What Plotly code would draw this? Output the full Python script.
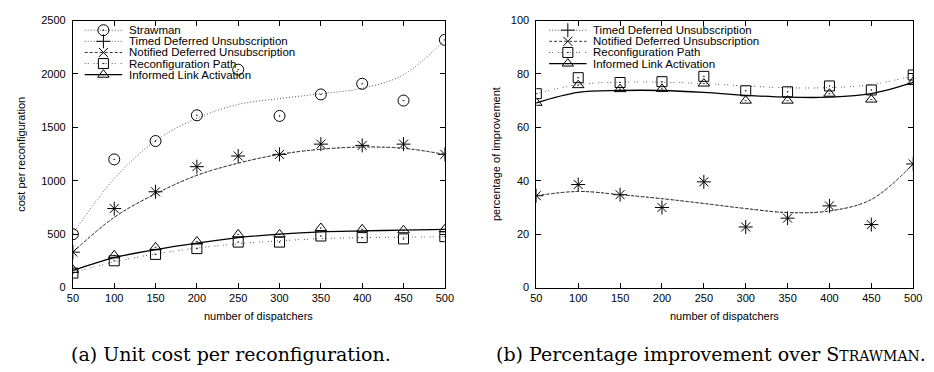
import plotly.graph_objects as go

# ---------------- data ----------------
dispatchers = [50, 100, 150, 200, 250, 300, 350, 400, 450, 500]

# (a) cost per reconfiguration - measured points
cost_strawman = [500, 1200, 1372, 1613, 2040, 1607, 1808, 1908, 1751, 2319]
cost_timed    = [332, 740, 897, 1132, 1232, 1247, 1343, 1331, 1343, 1247]
cost_notified = [332, 740, 897, 1132, 1232, 1247, 1343, 1331, 1343, 1247]
cost_reconf   = [136, 251, 311, 365, 426, 426, 483, 468, 456, 477]
cost_ila      = [166, 302, 377, 432, 498, 498, 558, 546, 537, 546]

# (a) fitted curves read at each x
fit_cost_strawman = [505, 1020, 1374, 1585, 1715, 1769, 1815, 1866, 1993, 2319]
fit_cost_notified = [332, 658, 878, 1051, 1165, 1247, 1295, 1316, 1304, 1247]
fit_cost_reconf   = [140, 241, 315, 370, 410, 438, 458, 468, 472, 477]
fit_cost_ila      = [160, 281, 356, 417, 468, 501, 522, 531, 538, 545]

# (b) percentage of improvement - measured points
imp_timed    = [34.4, 38.6, 34.8, 30.0, 39.6, 22.7, 26.0, 30.6, 23.6, 46.3]
imp_notified = [34.4, 38.6, 34.8, 30.0, 39.6, 22.7, 26.0, 30.6, 23.6, 46.3]
imp_reconf   = [72.6, 78.6, 76.8, 77.1, 79.1, 73.7, 73.3, 75.5, 74.0, 79.6]
imp_ila      = [69.2, 75.8, 74.3, 74.4, 76.4, 70.0, 70.0, 72.6, 70.4, 77.0]

# (b) fitted curves
fit_imp_notified = [34.4, 36.0, 34.8, 33.3, 31.5, 29.6, 28.1, 28.7, 33.0, 46.3]
fit_imp_reconf   = [72.6, 76.0, 76.9, 76.9, 76.4, 75.5, 74.8, 74.9, 76.0, 79.3]
fit_imp_ila      = [69.2, 73.1, 73.8, 73.8, 73.1, 72.0, 71.3, 71.3, 72.6, 76.8]

x_ticks = [50, 100, 150, 200, 250, 300, 350, 400, 450, 500]
y_ticks_cost = [0, 500, 1000, 1500, 2000, 2500]
y_ticks_imp = [0, 20, 40, 60, 80, 100]

# ---------------- styling ----------------
W, H = 934, 372
SANS = "Liberation Sans, Arial, sans-serif"
SERIF = "DejaVu Serif, serif"

STYLE = {
    "Strawman": dict(dash="1px,2px", color="#555", width=1, symbol="circle-open-dot", msize=11),
    "Timed Deferred Unsubscription": dict(dash="1px,2px", color="#555", width=1, symbol="cross-thin-open", msize=10),
    "Notified Deferred Unsubscription": dict(dash="3px,2px", color="#333", width=1, symbol="x-thin-open", msize=9),
    "Reconfiguration Path": dict(dash="1px,2px,1px,5px", color="#555", width=1, symbol="square-open-dot", msize=10),
    "Informed Link Activation": dict(dash="solid", color="#000", width=1.3, symbol="triangle-up-open-dot", msize=10),
}

# pixel geometry of the two plot frames
PL = dict(x0=68, x1=446, y0=15, y1=291)
PR = dict(x0=539, x1=922, y0=15, y1=291)


def dom_x(p):
    return [p["x0"] / W, p["x1"] / W]


def dom_y(p):
    return [1 - p["y1"] / H, 1 - p["y0"] / H]


fig = go.Figure()


def add_series(xa, ya, name, pts, fit=None):
    s = STYLE[name]
    if fit is not None:
        fig.add_trace(go.Scatter(
            x=dispatchers, y=fit, mode="lines", xaxis=xa, yaxis=ya,
            line=dict(color=s["color"], width=s["width"], dash=s["dash"], shape="spline", smoothing=1.0),
            showlegend=False, hoverinfo="skip"))
    fig.add_trace(go.Scatter(
        x=dispatchers, y=pts, mode="markers", xaxis=xa, yaxis=ya, name=name,
        marker=dict(symbol=s["symbol"], size=s["msize"], color="#000",
                    line=dict(color="#000", width=1)),
        showlegend=False))


# left panel
add_series("x", "y", "Strawman", cost_strawman, fit_cost_strawman)
add_series("x", "y", "Timed Deferred Unsubscription", cost_timed, fit_cost_notified)
add_series("x", "y", "Notified Deferred Unsubscription", cost_notified, fit_cost_notified)
add_series("x", "y", "Reconfiguration Path", cost_reconf, fit_cost_reconf)
add_series("x", "y", "Informed Link Activation", cost_ila, fit_cost_ila)

# right panel
add_series("x2", "y2", "Timed Deferred Unsubscription", imp_timed, fit_imp_notified)
add_series("x2", "y2", "Notified Deferred Unsubscription", imp_notified, fit_imp_notified)
add_series("x2", "y2", "Reconfiguration Path", imp_reconf, fit_imp_reconf)
add_series("x2", "y2", "Informed Link Activation", imp_ila, fit_imp_ila)

# ---------------- gnuplot-style legends (drawn on overlay axes) ----------------
annotations = []


def draw_legend(xa, ya, p, names, lx0, lx1, tx, rows):
    w = p["x1"] - p["x0"]
    h = p["y1"] - p["y0"]
    for name, ry in zip(names, rows):
        s = STYLE[name]
        u0 = (lx0 - p["x0"]) / w
        u1 = (lx1 - p["x0"]) / w
        um = (u0 + u1) / 2
        v = (p["y1"] - ry) / h
        fig.add_trace(go.Scatter(
            x=[u0, u1], y=[v, v], mode="lines", xaxis=xa, yaxis=ya,
            line=dict(color=s["color"], width=s["width"], dash=s["dash"]),
            showlegend=False, hoverinfo="skip"))
        fig.add_trace(go.Scatter(
            x=[um], y=[v], mode="markers", xaxis=xa, yaxis=ya,
            marker=dict(symbol=s["symbol"], size=s["msize"], color="#000",
                        line=dict(color="#000", width=1)),
            showlegend=False, hoverinfo="skip"))
        annotations.append(dict(
            text=name, x=tx / W, y=1 - ry / H, xref="paper", yref="paper",
            xanchor="left", yanchor="middle", showarrow=False,
            font=dict(family=SANS, size=11.5, color="#000")))


names_left = ["Strawman", "Timed Deferred Unsubscription", "Notified Deferred Unsubscription",
              "Reconfiguration Path", "Informed Link Activation"]
names_right = names_left[1:]
draw_legend("x3", "y3", PL, names_left, 80, 118, 123, [25, 36.5, 48, 59.5, 71])
draw_legend("x4", "y4", PR, names_right, 552, 590, 595, [25, 36.5, 48, 59.5])

# ---------------- axes ----------------
axis_common = dict(
    showline=True, linecolor="#000", linewidth=1, mirror="ticks",
    ticks="inside", ticklen=5, tickwidth=1, tickcolor="#000",
    showgrid=False, zeroline=False,
    tickfont=dict(family=SANS, size=11, color="#000"),
)

layout = dict(
    width=W, height=H, margin=dict(l=0, r=0, t=0, b=0),
    paper_bgcolor="#fff", plot_bgcolor="rgba(0,0,0,0)", showlegend=False,
    xaxis=dict(domain=dom_x(PL), range=[50, 500], tickvals=x_ticks, anchor="y", **axis_common),
    yaxis=dict(domain=dom_y(PL), range=[0, 2500], tickvals=y_ticks_cost, anchor="x",
               ticklabelstandoff=4, **axis_common),
    xaxis2=dict(domain=dom_x(PR), range=[50, 500], tickvals=x_ticks, anchor="y2", **axis_common),
    yaxis2=dict(domain=dom_y(PR), range=[0, 100], tickvals=y_ticks_imp, anchor="x2",
                ticklabelstandoff=4, **axis_common),
    xaxis3=dict(domain=dom_x(PL), range=[0, 1], visible=False, anchor="y3", fixedrange=True),
    yaxis3=dict(domain=dom_y(PL), range=[0, 1], visible=False, anchor="x3", fixedrange=True),
    xaxis4=dict(domain=dom_x(PR), range=[0, 1], visible=False, anchor="y4", fixedrange=True),
    yaxis4=dict(domain=dom_y(PR), range=[0, 1], visible=False, anchor="x4", fixedrange=True),
)

# axis titles
for cx in [(PL["x0"] + PL["x1"]) / 2, (PR["x0"] + PR["x1"]) / 2]:
    annotations.append(dict(
        text="number of dispatchers", x=cx / W, y=1 - 320 / H, xref="paper", yref="paper",
        xanchor="center", yanchor="middle", showarrow=False,
        font=dict(family=SANS, size=11, color="#000")))
annotations.append(dict(
    text="cost per reconfiguration", x=15 / W, y=1 - 153 / H, xref="paper", yref="paper",
    xanchor="center", yanchor="middle", showarrow=False, textangle=-90,
    font=dict(family=SANS, size=11, color="#000")))
annotations.append(dict(
    text="percentage of improvement", x=498 / W, y=1 - 153 / H, xref="paper", yref="paper",
    xanchor="center", yanchor="middle", showarrow=False, textangle=-90,
    font=dict(family=SANS, size=11, color="#000")))

# captions
annotations.append(dict(
    text="(a) Unit cost per reconfiguration.", x=229 / W, y=1 - 360 / H, xref="paper", yref="paper",
    xanchor="center", yanchor="middle", showarrow=False,
    font=dict(family=SERIF, size=19, color="#000")))
annotations.append(dict(
    text='(b) Percentage improvement over S<span style="font-size:14px">TRAWMAN</span>.',
    x=716 / W, y=1 - 360 / H, xref="paper", yref="paper",
    xanchor="center", yanchor="middle", showarrow=False,
    font=dict(family=SERIF, size=19, color="#000")))

layout["annotations"] = annotations
fig.update_layout(**layout)

fig.write_html(
    "out.html",
    config={"displayModeBar": False},
    post_script="document.body.style.margin='0';document.body.style.padding='0';"
                "document.documentElement.style.overflow='hidden';",
)
